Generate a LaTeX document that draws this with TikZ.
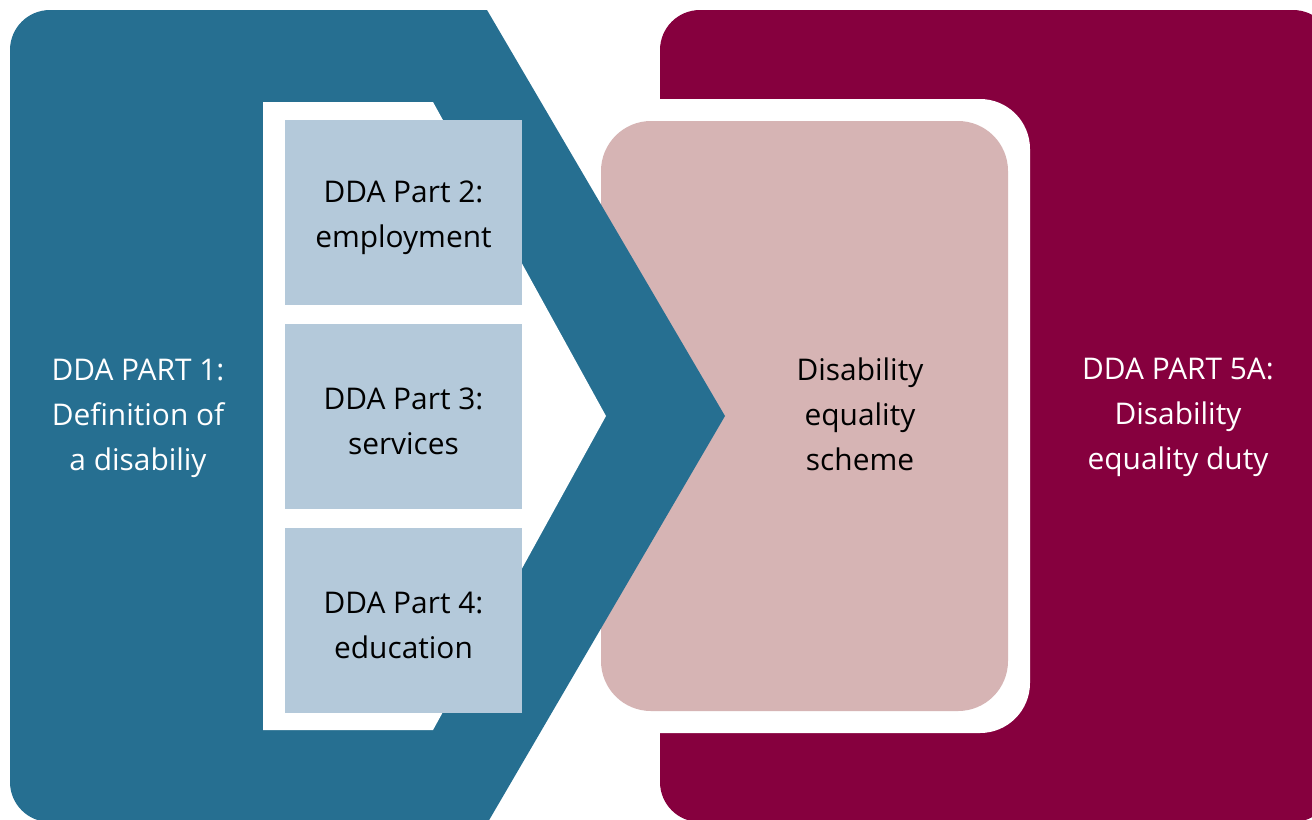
\documentclass[tikz,border=0pt]{standalone}
\usepackage{fontspec}
\setmainfont{Open Sans}
\usepackage{xcolor}

\definecolor{ddablue}{HTML}{266F91}
\definecolor{ddamaroon}{HTML}{86003E}
\definecolor{ddapink}{HTML}{D6B4B4}
\definecolor{ddalight}{HTML}{B4C9DA}

\begin{document}
\begin{tikzpicture}[x=0.02cm, y=-0.02cm,
    partbox/.style={fill=ddalight, draw=none, inner sep=0pt,
      minimum width=4.74cm, minimum height=3.7cm},
    ddatext/.style={align=center, font=\fontsize{17}{25.6}\selectfont}]
    \clip (0,0) rectangle (1312,819);
    \fill[white] (0,0) rectangle (1312,819);

    \fill[ddamaroon, rounded corners=0.8cm] (660,10) rectangle (1333,822); % Part 5A
    \fill[white, rounded corners=1cm] (560,99) rectangle (1030,733);
    \fill[ddapink, rounded corners=1cm] (601,121) rectangle (1008,711); % scheme

    \fill[ddablue, rounded corners=0.8cm] (10,10) rectangle (300,822); % Part 1
    \fill[ddablue] (100,10) -- (487,10) -- (725,416) -- (488,822) -- (100,822) -- cycle;
    \fill[white] (263,102) -- (433,102) -- (606,416) -- (433,730) -- (263,730) -- cycle;

    \node[partbox] (part2) at (403.5,212.5) {};
    \node[partbox] (part3) at (403.5,416.5) {};
    \node[partbox] (part4) at (403.5,620.5) {};
    \node[ddatext] (part2txt) at ([yshift=-1mm]part2.center) {DDA Part 2:\\employment};
    \node[ddatext] (part3txt) at ([yshift=-1mm]part3.center) {DDA Part 3:\\services};
    \node[ddatext] (part4txt) at ([yshift=-1mm]part4.center) {DDA Part 4:\\education};

    \node[ddatext, text=white] (part1) at (138,418) {DDA PART 1:\\Definition of\\a disabiliy};
    \node[ddatext] (scheme) at (860,414) {Disability\\equality\\scheme};
    \node[ddatext, text=white] (part5a) at (1178,417) {DDA PART 5A:\\Disability\\equality duty};
\end{tikzpicture}
\end{document}
